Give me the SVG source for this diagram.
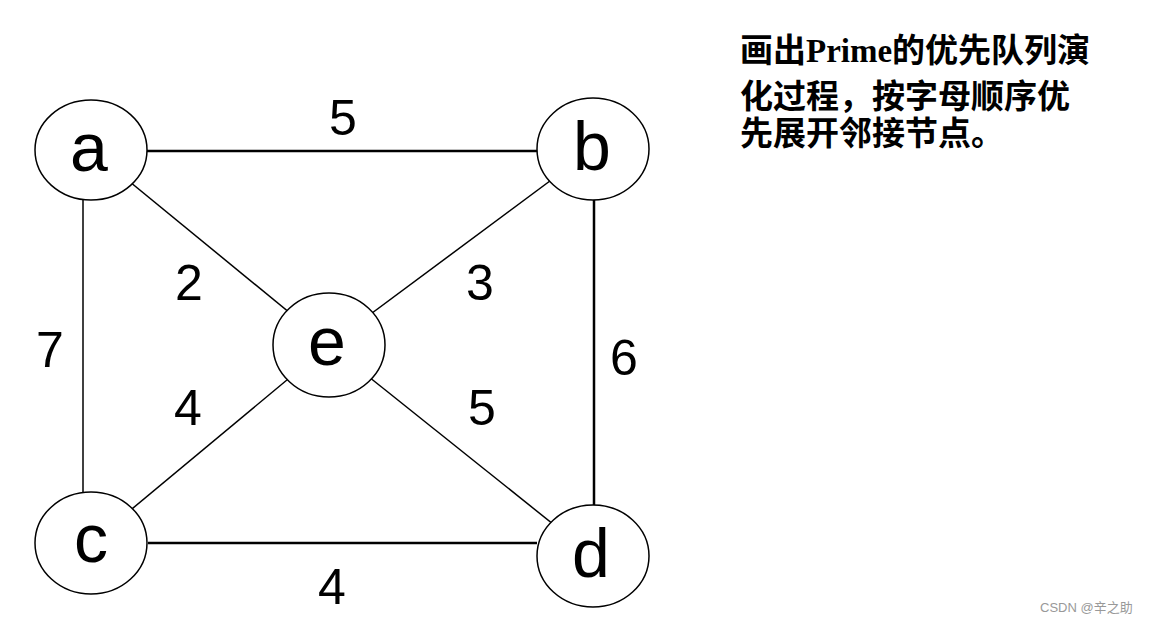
<svg xmlns="http://www.w3.org/2000/svg" width="1153" height="623" viewBox="0 0 1153 623">
<style>
.node{fill:#fff;stroke:#000;stroke-width:1.5}
.lbl{font-family:"Liberation Sans",Arial,sans-serif;font-size:68px;fill:#000;text-anchor:middle}
.w{font-family:"Liberation Sans",Arial,sans-serif;font-size:50px;fill:#000;text-anchor:middle}
.thin{stroke:#000;stroke-width:1.5;fill:none}
.thick{stroke:#000;stroke-width:2.5;fill:none}
.cn{font-family:"Liberation Serif","Noto Sans CJK SC",serif;font-size:33px;font-weight:bold;fill:#000}
</style>
<rect width="1153" height="623" fill="#fff"/>
<g id="edges">
<line class="thick" x1="147" y1="151" x2="537" y2="151"/>
<line class="thin" x1="83" y1="200" x2="83" y2="492"/>
<line class="thick" x1="594" y1="200" x2="594" y2="505"/>
<line class="thick" x1="148" y1="543" x2="537" y2="543"/>
<line class="thin" x1="91" y1="150" x2="329" y2="345"/>
<line class="thin" x1="593" y1="149" x2="329" y2="345"/>
<line class="thin" x1="329" y1="345" x2="91" y2="543"/>
<line class="thin" x1="329" y1="345" x2="593" y2="556"/>
<text class="w" x="343" y="135">5</text>
<text class="w" x="50" y="367">7</text>
<text class="w" x="624" y="375">6</text>
<text class="w" x="189" y="300">2</text>
<text class="w" x="480" y="300">3</text>
<text class="w" x="188" y="425">4</text>
<text class="w" x="482" y="425">5</text>
<text class="w" x="332" y="604">4</text>
</g>
<g id="node-a"><ellipse class="node" cx="91" cy="150" rx="56" ry="50"/><text class="lbl" x="89" y="171">a</text></g>
<g id="node-b"><ellipse class="node" cx="593" cy="149" rx="56" ry="51"/><text class="lbl" x="592" y="170">b</text></g>
<g id="node-e"><ellipse class="node" cx="329" cy="345" rx="56" ry="52"/><text class="lbl" x="327" y="365">e</text></g>
<g id="node-c"><ellipse class="node" cx="91" cy="543" rx="56" ry="51"/><text class="lbl" x="91" y="562">c</text></g>
<g id="node-d"><ellipse class="node" cx="593" cy="556" rx="56" ry="51"/><text class="lbl" x="591" y="577">d</text></g>
<g id="note">
<text class="cn" x="740" y="62">画出Prime的优先队列演</text>
<text class="cn" x="740" y="108">化过程，按字母顺序优</text>
<text class="cn" x="740" y="145">先展开邻接节点。</text>
</g>
<text x="1040" y="612" font-family="Liberation Sans,Noto Sans CJK SC,sans-serif" font-size="13" fill="#999">CSDN @辛之助</text>
</svg>
